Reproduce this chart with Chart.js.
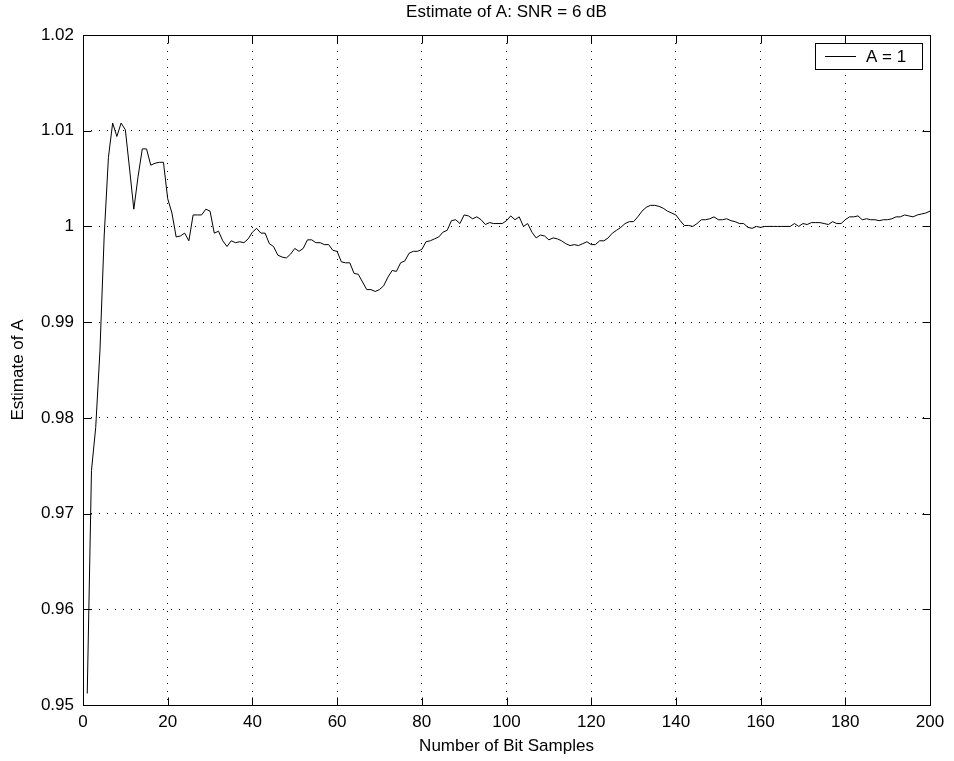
<!DOCTYPE html>
<html>
<head>
<meta charset="utf-8">
<script src="https://cdn.jsdelivr.net/npm/chart.js@4.4.0/dist/chart.umd.min.js"></script>
<style>
  html, body { margin: 0; padding: 0; background: #fff; }
  canvas { display: block; }
</style>
</head>
<body>
<canvas id="chart" width="954" height="761"></canvas>
<script>
// Estimate of A after n bit samples (n = 1..200)
const estimateA = [
  0.9512, 0.9745, 0.9790, 0.9870, 0.9990, 1.0072, 1.0108, 1.0094, 1.0108, 1.0101,
  1.0060, 1.0018, 1.0052, 1.0081, 1.0081, 1.0064, 1.0066, 1.0067, 1.0067, 1.0029,
  1.0014, 0.9989, 0.9990, 0.9993, 0.9985, 1.0012, 1.0012, 1.0012, 1.0018, 1.0016,
  0.9993, 0.9995, 0.9985, 0.9979, 0.9985, 0.9983, 0.9984, 0.9983, 0.9987, 0.9994,
  0.9998, 0.9993, 0.9993, 0.9982, 0.9979, 0.9970, 0.9968, 0.9967, 0.9971, 0.9977,
  0.9974, 0.9977, 0.9986, 0.9986, 0.9983, 0.9983, 0.9981, 0.9981, 0.9975, 0.9974,
  0.9963, 0.9962, 0.9962, 0.9951, 0.9950, 0.9942, 0.9934, 0.9934, 0.9932, 0.9934,
  0.9938, 0.9947, 0.9954, 0.9953, 0.9962, 0.9964, 0.9972, 0.9974, 0.9974, 0.9976,
  0.9984, 0.9985, 0.9987, 0.9989, 0.9994, 0.9996, 1.0006, 1.0007, 1.0003, 1.0012,
  1.0011, 1.0008, 1.0010, 1.0007, 1.0002, 1.0004, 1.0003, 1.0003, 1.0003, 1.0006,
  1.0011, 1.0007, 1.0010, 1.0000, 1.0003, 0.9994, 0.9988, 0.9991, 0.9990, 0.9986,
  0.9988, 0.9987, 0.9985, 0.9982, 0.9980, 0.9981, 0.9980, 0.9982, 0.9984, 0.9981,
  0.9981, 0.9985, 0.9985, 0.9988, 0.9993, 0.9996, 0.9999, 1.0003, 1.0005, 1.0005,
  1.0010, 1.0016, 1.0020, 1.0022, 1.0022, 1.0021, 1.0019, 1.0016, 1.0014, 1.0012,
  1.0006, 1.0001, 1.0001, 1.0000, 1.0003, 1.0007, 1.0007, 1.0008, 1.0010, 1.0007,
  1.0007, 1.0008, 1.0006, 1.0005, 1.0003, 1.0003, 0.9999, 0.9998, 1.0000, 0.9999,
  1.0000, 1.0000, 1.0000, 1.0000, 1.0000, 1.0000, 1.0000, 1.0003, 1.0000, 1.0003,
  1.0002, 1.0004, 1.0004, 1.0004, 1.0003, 1.0002, 1.0005, 1.0003, 1.0003, 1.0007,
  1.0010, 1.0010, 1.0011, 1.0007, 1.0008, 1.0007, 1.0007, 1.0006, 1.0007, 1.0007,
  1.0008, 1.0010, 1.0010, 1.0012, 1.0011, 1.0010, 1.0012, 1.0013, 1.0014, 1.0016
];
const xTicks = [0, 20, 40, 60, 80, 100, 120, 140, 160, 180, 200];
const yTicks = [0.95, 0.96, 0.97, 0.98, 0.99, 1.00, 1.01, 1.02];

const titleText = "Estimate of A: SNR = 6 dB";
const xLabel = "Number of Bit Samples";
const yLabel = "Estimate of A";
const seriesLabel = "A = 1";

const FONT = "'Liberation Sans', Arial, Helvetica, sans-serif";
const FS = 17;

// title, box, inward ticks and the legend, drawn like MATLAB does
const matlabFrame = {
  id: "matlabFrame",
  afterDraw(chart) {
    const { ctx, chartArea: a, scales } = chart;
    ctx.save();
    ctx.fillStyle = "#000";
    ctx.font = FS + "px " + FONT;
    ctx.textAlign = "center";
    ctx.textBaseline = "middle";
    ctx.fillText(titleText, (a.left + a.right) / 2, 12);

    ctx.strokeStyle = "#000";
    ctx.lineWidth = 1;
    const L = Math.round(a.left) + 0.5, R = Math.round(a.right) + 0.5;
    const T = Math.round(a.top) + 0.5, B = Math.round(a.bottom) + 0.5;
    ctx.strokeRect(L, T, R - L, B - T);

    const tl = 8;
    ctx.beginPath();
    xTicks.forEach(v => {
      const x = Math.round(scales.x.getPixelForValue(v)) + 0.5;
      ctx.moveTo(x, B); ctx.lineTo(x, B - tl);
      ctx.moveTo(x, T); ctx.lineTo(x, T + tl);
    });
    yTicks.forEach(v => {
      const y = Math.round(scales.y.getPixelForValue(v)) + 0.5;
      ctx.moveTo(L, y); ctx.lineTo(L + tl, y);
      ctx.moveTo(R, y); ctx.lineTo(R - tl, y);
    });
    ctx.stroke();

    // legend box
    const bx = 815.5, by = 43.5, bw = 107, bh = 26;
    ctx.fillStyle = "#fff";
    ctx.fillRect(bx, by, bw, bh);
    ctx.strokeRect(bx, by, bw, bh);
    ctx.beginPath();
    ctx.moveTo(825, by + bh / 2); ctx.lineTo(856, by + bh / 2);
    ctx.stroke();
    ctx.fillStyle = "#000";
    ctx.textAlign = "left";
    ctx.fillText(chart.data.datasets[0].label, 866, by + bh / 2 + 1);
    ctx.restore();
  }
};

new Chart(document.getElementById("chart"), {
  type: "line",
  data: {
    datasets: [{
      label: seriesLabel,
      data: estimateA.map((v, i) => ({ x: i + 1, y: v })),
      borderColor: "#000",
      borderWidth: 1,
      pointRadius: 0,
      tension: 0,
      fill: false
    }]
  },
  options: {
    responsive: false,
    animation: false,
    devicePixelRatio: 1,
    layout: { padding: { top: 35, right: 24, left: 0, bottom: 0 } },
    plugins: {
      legend: { display: false },
      title: { display: false },
      tooltip: { enabled: false }
    },
    scales: {
      x: {
        type: "linear",
        min: 0,
        max: 200,
        afterBuildTicks: s => { s.ticks = xTicks.map(v => ({ value: v })); },
        afterFit: s => { s.height = 56; },
        grid: { color: "#000", lineWidth: 1, drawTicks: false },
        border: { display: false, dash: [1, 7] },
        ticks: { color: "#000", padding: 7, maxRotation: 0, font: { family: FONT, size: FS } },
        title: { display: true, text: xLabel, color: "#000", padding: { top: 0, bottom: 4 }, font: { family: FONT, size: FS } }
      },
      y: {
        type: "linear",
        min: 0.95,
        max: 1.02,
        afterBuildTicks: s => { s.ticks = yTicks.map(v => ({ value: v })); },
        afterFit: s => { s.width = 83; },
        grid: { color: "#000", lineWidth: 1, drawTicks: false },
        border: { display: false, dash: [1, 7] },
        ticks: {
          color: "#000", padding: 9, font: { family: FONT, size: FS },
          callback: v => String(+v.toFixed(2))
        },
        title: { display: true, text: yLabel, color: "#000", padding: { top: 8, bottom: 0 }, font: { family: FONT, size: FS } }
      }
    }
  },
  plugins: [matlabFrame]
});
</script>
</body>
</html>
